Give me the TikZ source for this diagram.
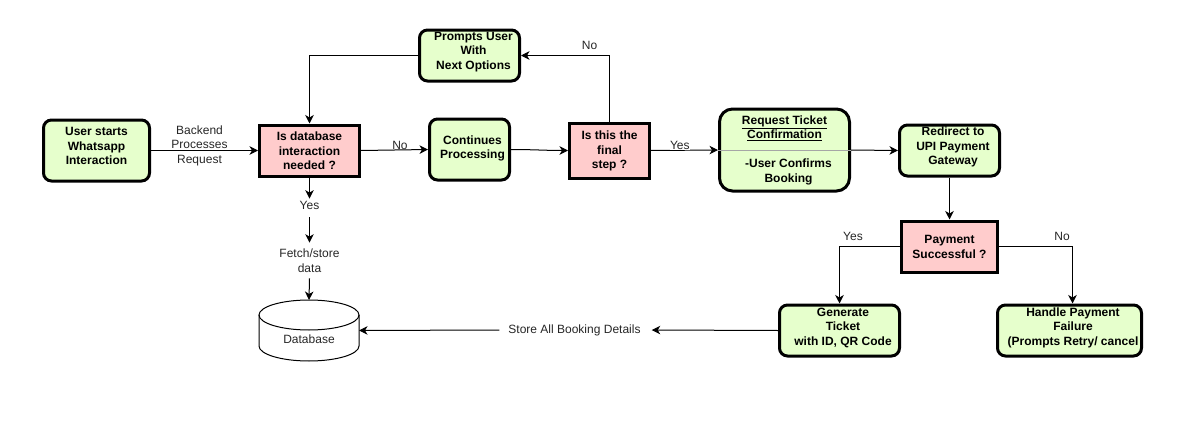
\documentclass[tikz,border=0pt]{standalone}
\usepackage{fontspec}
\setmainfont{Liberation Sans}
\usetikzlibrary{arrows.meta,calc}
\definecolor{gfill}{HTML}{E6FFCC}
\definecolor{pfill}{HTML}{FFCCCC}
\definecolor{inkc}{HTML}{262626}
\tikzset{
  x=1pt,y=-1pt,
  base/.style={draw=black,line width=3pt,outer sep=1.5pt,inner sep=0pt},
  gbox/.style={base,fill=gfill,rounded corners=8pt},
  pbox/.style={base,fill=pfill},
  boxtxt/.style={align=center,inner sep=0pt,text=black,font=\fontsize{12}{14.5}\selectfont\bfseries},
  lbl/.style={align=center,inner sep=1pt,text=inkc,font=\fontsize{12}{14.5}\selectfont},
  wlbl/.style={lbl,fill=white},
  conn/.style={draw=black,line width=1pt,-{Stealth[length=8.5pt,width=8.5pt,inset=2.5pt]}},
  sz/.style 2 args={minimum width=#1pt,minimum height=#2pt}
}
\begin{document}
\begin{tikzpicture}
\useasboundingbox (0,0) rectangle (1192,423);
% process boxes
\node[gbox,sz={106}{61}] (user) at (96.5,150.5) {};
\node[pbox,sz={100}{51}] (dbq) at (309.5,150.5) {};
\node[gbox,sz={100}{51}] (prompt) at (469.5,55.5) {};
\node[gbox,sz={80}{61}] (cont) at (469.5,149.5) {};
\node[pbox,sz={80}{55}] (final) at (609.5,150.5) {};
\node[gbox,sz={130}{82},rounded corners=13pt] (req) at (784.5,150) {};
\node[gbox,sz={100}{51}] (redir) at (949.5,150.5) {};
\node[pbox,sz={96}{51}] (pay) at (949.5,246.5) {};
\node[gbox,sz={120}{51}] (gen) at (839.5,330.5) {};
\node[gbox,sz={144}{51}] (hand) at (1069.5,330.5) {};
% database
\node[minimum width=100pt,minimum height=61pt,inner sep=0pt,outer sep=0pt] (db) at (309,330.5) {};
\draw[line width=1pt,black,fill=white]
  ($(db.north west)+(0,15)$) arc[start angle=180,end angle=360,x radius=50pt,y radius=-15pt]
  arc[start angle=0,end angle=180,x radius=50pt,y radius=-15pt] -- cycle;
\draw[line width=1pt,black]
  ($(db.north west)+(0,15)$) -- ($(db.south west)+(0,-15)$)
  arc[start angle=180,end angle=360,x radius=50pt,y radius=15pt]
  -- ($(db.north east)+(0,15)$);
% free labels
\node[lbl] (backend) at (199.5,145.5) {Backend\\Processes\\Request};
\node[lbl] (yes1) at (309.5,205) {Yes};
\node[lbl] (fetch) at (309.5,260.5) {Fetch/store\\data};
\node[lbl] (store) at (574.5,330) {Store All Booking Details};
\node[lbl] (no1) at (400,145) {No};
\node[lbl] (no2) at (589.5,45) {No};
\node[lbl] (yes3) at (853,236) {Yes};
\node[lbl] (no3) at (1062,236) {No};
\node[lbl] (dbt) at (309,339) {Database};
% connectors
\draw[conn] (user.east) -- (dbq.west);
\draw[conn] (dbq.east) -- (cont.west);
\draw[conn] (cont.east) to[out=0,in=180] (final.west);
\draw[conn] (final.north) |- (prompt.east);
\draw[conn] (prompt.west) -| (dbq.north);
\draw[conn] (final.east) -- node[wlbl,pos=0.43,yshift=5pt,inner sep=0.5pt] (yes2) {Yes} (req.west);
\draw[line width=1pt,black!35] (req.west) -- (req.east);
\draw[conn] (req.east) -- (redir.west);
\draw[conn] (redir.south) -- (pay.north);
\draw[conn] (pay.west) -| (gen.north);
\draw[conn] (pay.east) -| ($(hand.north)+(3,0)$);
\draw[conn] (dbq.south) -- ($(yes1.north)+(0,-1)$);
\draw[conn] ($(yes1.south)+(0,7)$) -- ($(fetch.north)+(0,-5)$);
\draw[conn] ($(fetch.south)+(0,5)$) -- (db.north);
\draw[conn] (gen.west) -- ($(store.east)+(10,0)$);
\draw[conn] ($(store.west)+(-8,0)$) -- (db.east);
% box texts, above the box borders and arrow tips
\node[boxtxt] (usert) at ($(user)+(0,-4.5)$) {User starts\\Whatsapp\\Interaction};
\node[boxtxt] (dbqt) at ($(dbq)+(0,0.5)$) {Is database\\interaction\\needed ?};
\node[boxtxt] (promptt) at ($(prompt)+(4,-3.5)$) {Prompts User\\With\\Next Options};
\node[boxtxt] (contt) at ($(cont)+(3,-1)$) {Continues\\Processing};
\node[boxtxt] (finalt) at ($(final)+(0,0.5)$) {Is this the\\final\\step ?};
\node[boxtxt] (reqt) at ($(req)+(0,0)$) {\underline{Request Ticket}\\\underline{Confirmation}\\[14.5pt]\hspace*{8pt}-User Confirms\\\hspace*{8pt}Booking};
\node[boxtxt] (redirt) at ($(redir)+(3.5,-3.5)$) {Redirect to\\UPI Payment\\Gateway};
\node[boxtxt] (payt) at ($(pay)+(0,0.5)$) {Payment\\Successful ?};
\node[boxtxt] (gent) at ($(gen)+(3.5,-3)$) {Generate\\Ticket\\with ID, QR Code};
\node[boxtxt] (handt) at ($(hand)+(3.5,-3)$) {Handle Payment\\Failure\\(Prompts Retry/ cancel};
\end{tikzpicture}
\end{document}
